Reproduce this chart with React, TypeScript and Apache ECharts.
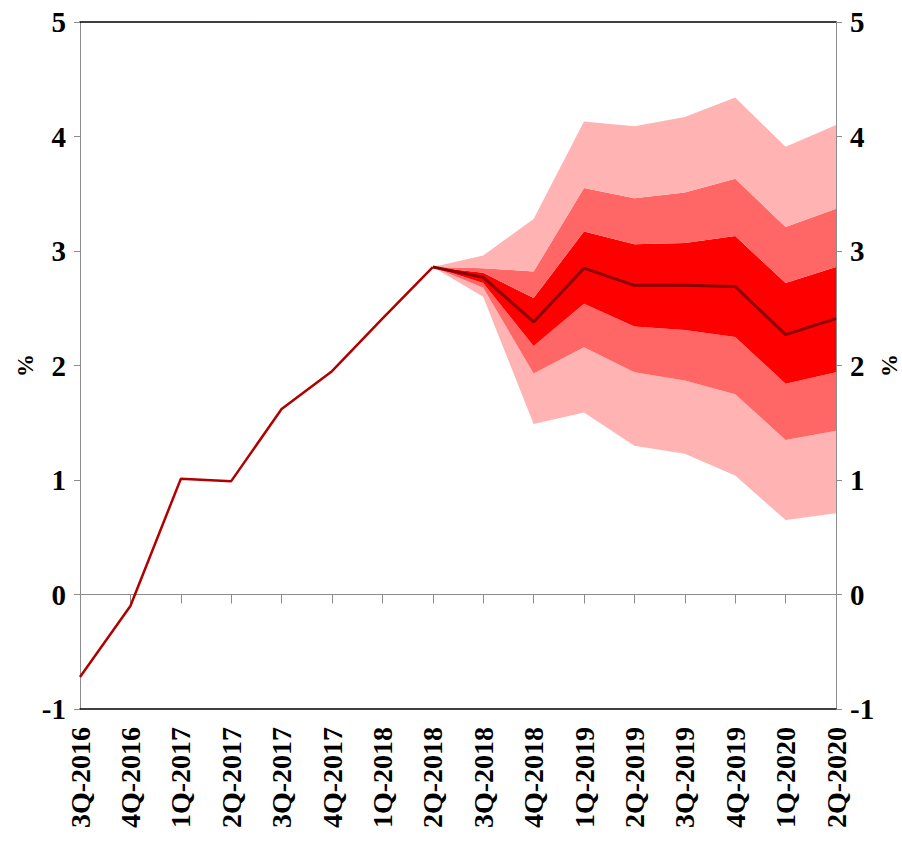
import React, { useEffect, useRef } from "react";
import * as echarts from "echarts";

const categories = [
  "3Q-2016", "4Q-2016", "1Q-2017", "2Q-2017", "3Q-2017", "4Q-2017",
  "1Q-2018", "2Q-2018", "3Q-2018", "4Q-2018", "1Q-2019", "2Q-2019",
  "3Q-2019", "4Q-2019", "1Q-2020", "2Q-2020",
];

// Actual (history) values, 3Q-2016 .. 2Q-2018
const history = [-0.72, -0.1, 1.01, 0.99, 1.62, 1.95, 2.41, 2.86];

// Forecast values start at 2Q-2018 (index 7)
const forecastStart = 7;
const central = [2.86, 2.77, 2.38, 2.85, 2.7, 2.7, 2.69, 2.27, 2.41];
const lower3 = [2.86, 2.6, 1.49, 1.59, 1.3, 1.23, 1.04, 0.65, 0.71];
const lower2 = [2.86, 2.68, 1.93, 2.16, 1.94, 1.87, 1.75, 1.35, 1.43];
const lower1 = [2.86, 2.72, 2.17, 2.54, 2.34, 2.31, 2.25, 1.84, 1.94];
const upper1 = [2.86, 2.81, 2.59, 3.17, 3.06, 3.07, 3.13, 2.72, 2.86];
const upper2 = [2.86, 2.85, 2.82, 3.55, 3.46, 3.51, 3.63, 3.21, 3.37];
const upper3 = [2.86, 2.96, 3.28, 4.13, 4.09, 4.17, 4.34, 3.91, 4.1];

const yTicks = { min: -1, max: 5, interval: 1 };

export default function App() {
  const ref = useRef<HTMLDivElement>(null);

  useEffect(() => {
    document.body.style.margin = "0";
    document.body.style.overflow = "hidden";
    const chart = echarts.init(ref.current!, null, {
      renderer: "svg",
      width: 902,
      height: 847,
    });

    const pad = (arr: (number | string)[]) => [
      ...Array(forecastStart).fill("-"),
      ...arr,
    ];
    const diff = (a: number[], b: number[]) =>
      a.map((v, i) => +(v - b[i]).toFixed(4));

    const font = "'Liberation Serif', 'Times New Roman', serif";
    const gray = "#8c8c8c";
    const light = "#FFB3B3";
    const mid = "#FF6666";
    const dark = "#FF0000";

    const band = (name: string, data: any[], color: string | null) => ({
      name,
      type: "line",
      stack: "fan",
      data,
      symbol: "none",
      silent: true,
      lineStyle: { width: 0, opacity: 0 },
      areaStyle: color ? { color, opacity: 1 } : { opacity: 0 },
      z: 1,
    });

    const yAxisBase = (position: "left" | "right", nameGap: number) => ({
      type: "value",
      position,
      min: yTicks.min,
      max: yTicks.max,
      interval: yTicks.interval,
      splitLine: { show: false },
      axisLine: { show: true, onZero: false, lineStyle: { color: gray, width: 1 } },
      axisTick: { show: true, inside: false, length: 6, lineStyle: { color: gray } },
      axisLabel: {
        color: "#000",
        fontFamily: font,
        fontWeight: "bold",
        fontSize: 29,
        margin: 14,
      },
      name: "%",
      nameLocation: "middle",
      nameRotate: 90,
      nameGap,
      nameMoveOverlap: false,
      nameTextStyle: {
        color: "#000",
        fontFamily: font,
        fontWeight: "bold",
        fontSize: 23,
        lineHeight: 23,
      },
    });

    const historyData = [
      ...history,
      ...Array(categories.length - history.length).fill("-"),
    ];

    chart.setOption({
      animation: false,
      backgroundColor: "#fff",
      grid: {
        left: 80,
        right: 66,
        top: 22,
        bottom: 138,
        containLabel: false,
        outerBoundsMode: "none",
      },
      xAxis: [
        {
          type: "category",
          data: categories,
          boundaryGap: false,
          position: "bottom",
          axisLine: { show: true, onZero: true, lineStyle: { color: gray, width: 1 } },
          axisTick: { show: true, length: 9, interval: 0, lineStyle: { color: gray } },
          axisLabel: { show: false },
          splitLine: { show: false },
          z: 3,
        },
        {
          type: "category",
          data: categories,
          boundaryGap: false,
          position: "bottom",
          axisLine: { show: true, onZero: false, lineStyle: { color: "#000", width: 1.5 } },
          axisTick: { show: false },
          axisLabel: {
            interval: 0,
            rotate: 90,
            margin: 18,
            color: "#000",
            fontFamily: font,
            fontWeight: "bold",
            fontSize: 28,
          },
          splitLine: { show: false },
        },
        {
          type: "category",
          data: categories,
          boundaryGap: false,
          position: "top",
          axisLine: { show: true, onZero: false, lineStyle: { color: "#000", width: 1.5 } },
          axisTick: { show: false },
          axisLabel: { show: false },
          splitLine: { show: false },
        },
      ],
      yAxis: [yAxisBase("left", 43), yAxisBase("right", 42)],
      series: [
        band("base", pad(lower3), null),
        band("l3-l2", pad(diff(lower2, lower3)), light),
        band("l2-l1", pad(diff(lower1, lower2)), mid),
        band("l1-u1", pad(diff(upper1, lower1)), dark),
        band("u1-u2", pad(diff(upper2, upper1)), mid),
        band("u2-u3", pad(diff(upper3, upper2)), light),
        {
          name: "history",
          type: "line",
          data: historyData,
          symbol: "none",
          lineStyle: { color: "#B00000", width: 2.5 },
          z: 5,
        },
        {
          name: "central",
          type: "line",
          data: pad(central),
          symbol: "none",
          lineStyle: { color: "#8B0000", width: 3 },
          z: 6,
        },
      ],
    });

    return () => chart.dispose();
  }, []);

  return (
    <div
      ref={ref}
      style={{ position: "fixed", left: 0, top: 0, width: 902, height: 847 }}
    />
  );
}
